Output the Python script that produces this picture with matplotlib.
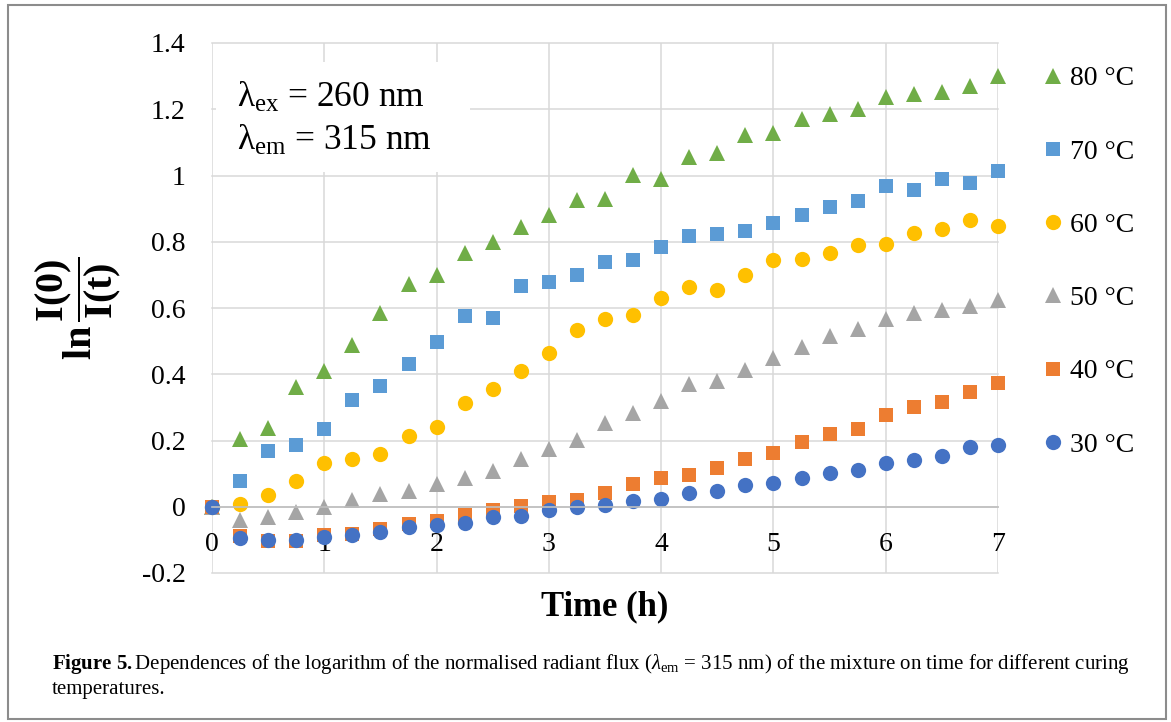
import numpy as np
import matplotlib
matplotlib.use("Agg")
import matplotlib.pyplot as plt
from matplotlib.patches import Rectangle

plt.rcParams['font.family'] = ['Liberation Serif', 'DejaVu Serif']
plt.rcParams['mathtext.fontset'] = 'custom'
plt.rcParams['mathtext.rm'] = 'Liberation Serif'
plt.rcParams['mathtext.it'] = 'Liberation Serif:italic'
plt.rcParams['mathtext.bf'] = 'Liberation Serif:bold'

# time (h)
time_h = [0, 0.25, 0.5, 0.75, 1, 1.25, 1.5, 1.75, 2, 2.25, 2.5, 2.75, 3, 3.25, 3.5,
          3.75, 4, 4.25, 4.5, 4.75, 5, 5.25, 5.5, 5.75, 6, 6.25, 6.5, 6.75, 7]

# ln(I(0)/I(t)) for each curing temperature
y80 = [0, 0.204, 0.237, 0.361, 0.41, 0.489, 0.584, 0.672, 0.70, 0.765, 0.80, 0.845, 0.88,
       0.926, 0.929, 1.002, 0.99, 1.057, 1.067, 1.122, 1.129, 1.17, 1.185, 1.20, 1.237,
       1.247, 1.252, 1.27, 1.30]
y70 = [0, 0.078, 0.167, 0.187, 0.235, 0.323, 0.365, 0.43, 0.498, 0.577, 0.569, 0.667, 0.68,
       0.70, 0.74, 0.745, 0.785, 0.817, 0.824, 0.833, 0.857, 0.882, 0.905, 0.922, 0.969,
       0.956, 0.988, 0.978, 1.013]
y60 = [0, 0.009, 0.036, 0.077, 0.132, 0.145, 0.159, 0.213, 0.24, 0.314, 0.354, 0.411, 0.464,
       0.533, 0.566, 0.58, 0.63, 0.662, 0.655, 0.699, 0.745, 0.747, 0.767, 0.789, 0.794,
       0.827, 0.838, 0.865, 0.849]
y50 = [0, -0.041, -0.032, -0.016, 0.0, 0.019, 0.038, 0.049, 0.069, 0.087, 0.109, 0.145, 0.174,
       0.202, 0.252, 0.284, 0.319, 0.371, 0.38, 0.412, 0.449, 0.483, 0.516, 0.536, 0.566,
       0.584, 0.594, 0.606, 0.624]
y40 = [0, -0.087, -0.103, -0.103, -0.084, -0.083, -0.067, -0.052, -0.042, -0.026, -0.009,
       0.003, 0.013, 0.02, 0.041, 0.069, 0.087, 0.097, 0.116, 0.145, 0.162, 0.195, 0.219,
       0.235, 0.278, 0.302, 0.316, 0.345, 0.375]
y30 = [0, -0.094, -0.1, -0.1, -0.09, -0.084, -0.076, -0.062, -0.054, -0.049, -0.031, -0.029,
       -0.011, -0.002, 0.004, 0.016, 0.024, 0.043, 0.048, 0.067, 0.073, 0.087, 0.102, 0.112,
       0.132, 0.141, 0.152, 0.179, 0.186]

labels = ['80 °C', '70 °C', '60 °C', '50 °C', '40 °C', '30 °C']
series = [y80, y70, y60, y50, y40, y30]
colors = ['#70AD47', '#5B9BD5', '#FFC000', '#A5A5A5', '#ED7D31', '#4472C4']
markers = ['^', 's', 'o', '^', 's', 'o']
msizes = [11.5, 10, 11, 11.5, 10, 11]

W, H = 1171, 722
fig = plt.figure(figsize=(W / 100, H / 100), dpi=100)
ax = fig.add_axes([212 / W, 1 - 573 / H, (998 - 212) / W, (573 - 43) / H])

for y, lab, c, m, ms in zip(series, labels, colors, markers, msizes):
    ax.plot(time_h, y, linestyle='none', marker=m, ms=ms, color=c,
            markeredgewidth=0, label=lab, clip_on=False)

ax.set_xlim(0, 7)
ax.set_ylim(-0.2, 1.4)
ax.set_xticks(range(0, 8))
ax.set_yticks([-0.2, 0, 0.2, 0.4, 0.6, 0.8, 1.0, 1.2, 1.4])
ax.set_yticklabels(['-0.2', '0', '0.2', '0.4', '0.6', '0.8', '1', '1.2', '1.4'])
ax.grid(True, color='#d9d9d9', lw=1.1)
ax.set_axisbelow(True)
for gl in ax.get_xgridlines() + ax.get_ygridlines():
    gl.set_clip_on(False)
for s in ['left', 'top', 'right']:
    ax.spines[s].set_visible(False)
ax.spines['bottom'].set_position(('data', 0))
ax.spines['bottom'].set_color('#bfbfbf')
ax.spines['bottom'].set_linewidth(1.2)
ax.tick_params(axis='both', length=0, labelsize=20)
ax.tick_params(axis='x', pad=18)
ax.tick_params(axis='y', pad=19)

ax.set_xlabel('Time (h)', fontsize=25, fontweight='bold', labelpad=0)
ax.xaxis.set_label_coords(0.5, 1 - (615 - 43) / (573 - 43))
ax.xaxis.label.set_va('baseline')
ax.set_ylabel(r'$\mathbf{ln}\,\dfrac{\mathbf{I(0)}}{\mathbf{I(t)}}$', fontsize=29)
ax.yaxis.set_label_coords((78 - 212) / (998 - 212), 0.5)
ax.yaxis.label.set_va('center')

# white box behind the wavelength note
fig.patches.append(Rectangle((216 / W, 1 - 172 / H), (470 - 216) / W, (172 - 62) / H,
                             transform=fig.transFigure, fc='white', ec='none', zorder=1.5))
fig.text(237 / W, 1 - 107 / H, r'λ$_\mathrm{ex}$ = 260 nm', fontsize=25.5, va='baseline', zorder=3)
fig.text(237 / W, 1 - 150 / H, r'λ$_\mathrm{em}$ = 315 nm', fontsize=25.5, va='baseline', zorder=3)

ax.legend(loc='upper left', bbox_to_anchor=(1042 / W, 1 - 66 / H), bbox_transform=fig.transFigure,
          frameon=False, fontsize=20, handlelength=0.8, handletextpad=0.2,
          labelspacing=1.72, borderpad=0, borderaxespad=0, markerscale=1.0)

fig.text(52 / W, 1 - 669 / H,
         r'$\mathbf{Figure\ 5.}$Dependences of the logarithm of the normalised radiant flux '
         r'($\lambda_{\rm em}$ = 315 nm) of the mixture on time for different curing',
         fontsize=15, va='baseline')
fig.text(52 / W, 1 - 694 / H, 'temperatures.', fontsize=15, va='baseline')

fig.patches.append(Rectangle((8 / W, 1 - 719 / H), (1166 - 8) / W, (719 - 5) / H,
                             transform=fig.transFigure, fill=False, ec='#8c8c8c', lw=1.5))

fig.savefig('out.png', dpi=100)
